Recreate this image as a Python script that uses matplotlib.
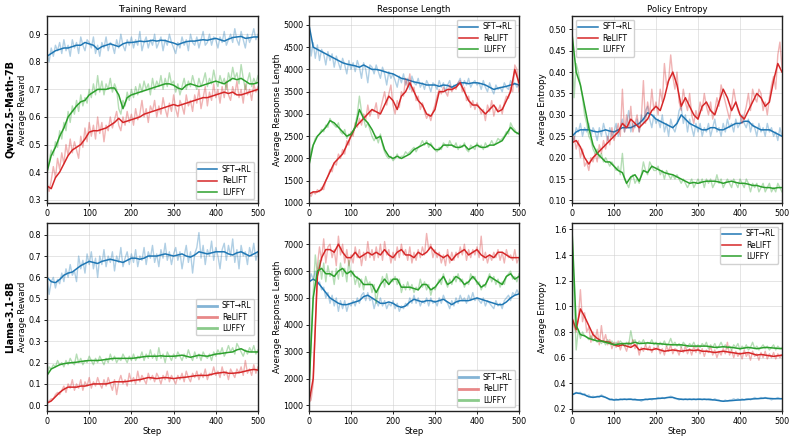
import numpy as np
import matplotlib
matplotlib.use('Agg')
import matplotlib.pyplot as plt

# ---- data ----
# raw values every 5 steps, smoothed values every 10 steps
q_rew_sft_raw = [0.83, 0.80, 0.85, 0.82, 0.86, 0.84, 0.87, 0.83, 0.88, 0.84, 0.86,
                 0.82, 0.88, 0.85, 0.87, 0.83, 0.89, 0.86, 0.84, 0.88, 0.87,
                 0.85, 0.89, 0.83, 0.86, 0.82, 0.87, 0.85, 0.89, 0.84, 0.87,
                 0.86, 0.83, 0.88, 0.85, 0.90, 0.86, 0.84, 0.88, 0.86, 0.89,
                 0.85, 0.88, 0.86, 0.91, 0.84, 0.87, 0.89, 0.85, 0.88, 0.86,
                 0.90, 0.85, 0.87, 0.89, 0.84, 0.88, 0.86, 0.90, 0.87, 0.85,
                 0.83, 0.87, 0.85, 0.89, 0.86, 0.88, 0.84, 0.90, 0.87, 0.86,
                 0.89, 0.85, 0.88, 0.91, 0.86, 0.87, 0.90, 0.86, 0.89, 0.88,
                 0.85, 0.89, 0.87, 0.91, 0.86, 0.88, 0.90, 0.87, 0.92, 0.88,
                 0.86, 0.91, 0.88, 0.85, 0.90, 0.87, 0.89, 0.92, 0.88, 0.90]
q_rew_sft = [0.82, 0.83, 0.84, 0.845, 0.85, 0.85, 0.855, 0.86, 0.86, 0.87, 0.865,
             0.86, 0.845, 0.855, 0.86, 0.865, 0.86, 0.855, 0.865, 0.87, 0.87,
             0.872, 0.875, 0.873, 0.875, 0.878, 0.875, 0.878, 0.877, 0.872, 0.868,
             0.862, 0.868, 0.873, 0.875, 0.875, 0.878, 0.88, 0.878, 0.882, 0.885,
             0.88, 0.875, 0.882, 0.888, 0.89, 0.892, 0.885, 0.887, 0.89, 0.89]
q_rew_relift_raw = [0.36, 0.33, 0.37, 0.42, 0.38, 0.45, 0.41, 0.47, 0.43, 0.50, 0.46,
                    0.52, 0.47, 0.51, 0.48, 0.45, 0.53, 0.49, 0.56, 0.51, 0.58,
                    0.53, 0.57, 0.52, 0.60, 0.54, 0.58, 0.51, 0.57, 0.55, 0.60,
                    0.56, 0.59, 0.62, 0.57, 0.55, 0.60, 0.57, 0.62, 0.58, 0.61,
                    0.57, 0.63, 0.59, 0.61, 0.66, 0.60, 0.63, 0.58, 0.64, 0.62,
                    0.66, 0.60, 0.64, 0.61, 0.67, 0.63, 0.60, 0.65, 0.62, 0.68,
                    0.63, 0.60, 0.66, 0.64, 0.61, 0.68, 0.64, 0.66, 0.62, 0.68,
                    0.65, 0.70, 0.63, 0.67, 0.71, 0.64, 0.69, 0.66, 0.72, 0.67,
                    0.70, 0.65, 0.71, 0.67, 0.73, 0.68, 0.66, 0.71, 0.68, 0.73,
                    0.67, 0.70, 0.65, 0.72, 0.68, 0.70, 0.66, 0.72, 0.69, 0.71]
q_rew_relift = [0.35, 0.34, 0.38, 0.40, 0.43, 0.46, 0.48, 0.49, 0.50, 0.52, 0.545,
                0.55, 0.55, 0.555, 0.56, 0.57, 0.58, 0.595, 0.58, 0.585, 0.59,
                0.595, 0.60, 0.61, 0.615, 0.62, 0.625, 0.63, 0.635, 0.64, 0.645,
                0.64, 0.645, 0.65, 0.655, 0.66, 0.665, 0.67, 0.67, 0.675, 0.68,
                0.685, 0.69, 0.685, 0.69, 0.68, 0.68, 0.685, 0.69, 0.695, 0.70]
q_rew_luffy_raw = [0.41, 0.44, 0.48, 0.46, 0.51, 0.49, 0.55, 0.52, 0.58, 0.55, 0.62,
                   0.58, 0.64, 0.61, 0.66, 0.62, 0.68, 0.64, 0.67, 0.65, 0.70,
                   0.67, 0.72, 0.68, 0.75, 0.69, 0.73, 0.68, 0.72, 0.70, 0.74,
                   0.69, 0.72, 0.70, 0.63, 0.61, 0.66, 0.64, 0.69, 0.66, 0.70,
                   0.67, 0.71, 0.68, 0.72, 0.69, 0.73, 0.70, 0.72, 0.68, 0.74,
                   0.70, 0.73, 0.71, 0.75, 0.70, 0.74, 0.71, 0.76, 0.72, 0.73,
                   0.69, 0.72, 0.68, 0.71, 0.74, 0.70, 0.73, 0.71, 0.75, 0.72,
                   0.70, 0.74, 0.71, 0.73, 0.76, 0.71, 0.74, 0.72, 0.77, 0.73,
                   0.71, 0.75, 0.72, 0.74, 0.70, 0.76, 0.73, 0.78, 0.74, 0.76,
                   0.72, 0.79, 0.74, 0.70, 0.73, 0.76, 0.71, 0.74, 0.72, 0.75]
q_rew_luffy = [0.40, 0.46, 0.49, 0.53, 0.56, 0.60, 0.62, 0.64, 0.655, 0.66, 0.68,
               0.69, 0.70, 0.70, 0.70, 0.705, 0.705, 0.68, 0.63, 0.67, 0.68,
               0.685, 0.69, 0.695, 0.70, 0.705, 0.71, 0.715, 0.72, 0.72, 0.715,
               0.705, 0.70, 0.715, 0.72, 0.715, 0.71, 0.715, 0.72, 0.725, 0.73,
               0.725, 0.72, 0.73, 0.74, 0.735, 0.74, 0.73, 0.72, 0.72, 0.725]

q_len_sft_raw = [5000, 4300, 4600, 4250, 4550, 4200, 4450, 4350, 4100, 4400, 4200,
                 4350, 4050, 4300, 4150, 4000, 4250, 4100, 3900, 4200, 4000,
                 4150, 3950, 4200, 4050, 3800, 4150, 4000, 3700, 4100, 4050,
                 3900, 4100, 3950, 3800, 4050, 3900, 3650, 3950, 3800, 3900,
                 3750, 3600, 3850, 3700, 3900, 3650, 3800, 3550, 3850, 3700,
                 3650, 3800, 3600, 3700, 3550, 3750, 3650, 3500, 3700, 3650,
                 3550, 3750, 3600, 3700, 3500, 3650, 3750, 3550, 3650, 3600,
                 3700, 3800, 3600, 3750, 3650, 3800, 3600, 3700, 3750, 3650,
                 3700, 3550, 3750, 3600, 3500, 3700, 3550, 3450, 3650, 3550,
                 3600, 3500, 3700, 3600, 3550, 3750, 3650, 3700, 3600, 3650]
q_len_sft = [5000, 4500, 4450, 4400, 4350, 4300, 4250, 4200, 4150, 4120, 4100,
             4080, 4050, 4100, 4050, 4000, 4000, 3980, 3950, 3920, 3900,
             3850, 3800, 3780, 3750, 3720, 3700, 3680, 3650, 3650, 3650,
             3620, 3650, 3640, 3600, 3650, 3700, 3700, 3680, 3700, 3700,
             3680, 3650, 3600, 3550, 3580, 3600, 3620, 3650, 3680, 3650]
q_len_relift_raw = [1200, 1150, 1250, 1200, 1300, 1250, 1350, 1300, 1500, 1600, 1750,
                    1700, 1900, 1850, 2100, 2000, 2200, 2100, 2400, 2300, 2600,
                    2500, 2800, 2700, 2900, 2750, 3000, 2850, 3200, 2950, 3100,
                    3050, 3250, 2900, 3100, 3300, 3500, 3200, 3450, 3650, 3200,
                    3000, 3300, 3150, 3500, 3400, 3800, 3600, 3900, 3500, 3600,
                    3300, 3400, 3100, 3250, 3050, 2900, 3000, 2850, 3050, 3200,
                    3400, 3550, 3450, 3600, 3500, 3400, 3650, 3500, 3600, 3550,
                    3700, 3750, 3500, 3600, 3300, 3400, 3150, 3300, 3100, 3250,
                    3150, 3000, 3100, 2850, 3200, 3050, 3300, 2950, 3150, 3050,
                    3200, 3000, 3250, 3400, 3350, 3600, 3500, 4100, 4000, 3500]
q_len_relift = [1200, 1250, 1250, 1300, 1500, 1700, 1900, 2000, 2100, 2300, 2500,
                2700, 2800, 2900, 3000, 3100, 3050, 3000, 3200, 3400, 3300,
                3100, 3400, 3500, 3700, 3500, 3300, 3200, 3000, 2950, 3100,
                3500, 3500, 3550, 3550, 3600, 3700, 3500, 3300, 3200, 3200,
                3100, 3000, 3100, 3200, 3050, 3100, 3300, 3500, 4000, 3700]
q_len_luffy_raw = [1850, 2200, 2300, 2450, 2500, 2550, 2650, 2600, 2750, 2700, 2900,
                   2800, 2750, 2700, 2800, 2600, 2550, 2650, 2450, 2550, 2500,
                   2600, 2750, 3000, 3400, 3050, 2900, 2700, 2800, 2650, 2500,
                   2400, 2500, 2350, 2550, 2300, 2150, 2050, 2000, 2050, 1950,
                   2000, 2100, 2000, 2050, 2050, 2150, 2100, 2150, 2200, 2250,
                   2150, 2250, 2300, 2400, 2300, 2400, 2250, 2350, 2250, 2200,
                   2150, 2250, 2200, 2350, 2300, 2250, 2400, 2300, 2250, 2350,
                   2200, 2300, 2250, 2350, 2200, 2150, 2300, 2250, 2200, 2350,
                   2250, 2300, 2200, 2350, 2250, 2300, 2400, 2300, 2350, 2450,
                   2400, 2450, 2500, 2600, 2550, 2800, 2700, 2650, 2550, 2600]
q_len_luffy = [1850, 2300, 2500, 2600, 2700, 2850, 2800, 2700, 2600, 2500, 2550,
               2700, 3100, 2900, 2800, 2650, 2450, 2500, 2200, 2050, 2000,
               2050, 2000, 2050, 2100, 2200, 2250, 2300, 2350, 2300, 2200,
               2200, 2300, 2300, 2300, 2250, 2250, 2300, 2200, 2250, 2300,
               2250, 2250, 2300, 2300, 2350, 2400, 2550, 2700, 2600, 2550]

q_ent_sft_raw = [0.25, 0.24, 0.27, 0.26, 0.28, 0.25, 0.27, 0.26, 0.28, 0.25, 0.27,
                 0.26, 0.24, 0.27, 0.25, 0.28, 0.26, 0.24, 0.27, 0.25, 0.26,
                 0.28, 0.25, 0.27, 0.29, 0.26, 0.28, 0.31, 0.26, 0.28, 0.27,
                 0.29, 0.26, 0.30, 0.28, 0.31, 0.32, 0.29, 0.27, 0.30, 0.28,
                 0.29, 0.27, 0.30, 0.26, 0.28, 0.25, 0.29, 0.27, 0.26, 0.28,
                 0.31, 0.32, 0.28, 0.30, 0.26, 0.29, 0.27, 0.25, 0.28, 0.26,
                 0.28, 0.25, 0.27, 0.26, 0.28, 0.25, 0.27, 0.29, 0.26, 0.27,
                 0.25, 0.28, 0.26, 0.29, 0.27, 0.28, 0.26, 0.29, 0.27, 0.28,
                 0.30, 0.28, 0.27, 0.29, 0.26, 0.28, 0.27, 0.25, 0.28, 0.26,
                 0.27, 0.25, 0.28, 0.26, 0.27, 0.25, 0.26, 0.24, 0.27, 0.25]
q_ent_sft = [0.25, 0.26, 0.265, 0.265, 0.265, 0.262, 0.26, 0.262, 0.265, 0.262, 0.26,
             0.265, 0.27, 0.27, 0.27, 0.275, 0.28, 0.29, 0.305, 0.30, 0.29,
             0.285, 0.28, 0.275, 0.27, 0.28, 0.30, 0.29, 0.28, 0.275, 0.27,
             0.265, 0.265, 0.27, 0.27, 0.265, 0.265, 0.27, 0.275, 0.28, 0.28,
             0.285, 0.285, 0.275, 0.27, 0.265, 0.265, 0.265, 0.26, 0.255, 0.25]
q_ent_relift_raw = [0.23, 0.25, 0.22, 0.24, 0.20, 0.22, 0.18, 0.19, 0.17, 0.20, 0.19,
                    0.21, 0.19, 0.23, 0.21, 0.24, 0.22, 0.25, 0.23, 0.27, 0.24,
                    0.26, 0.28, 0.25, 0.36, 0.26, 0.30, 0.27, 0.32, 0.26, 0.28,
                    0.30, 0.26, 0.29, 0.38, 0.28, 0.33, 0.30, 0.36, 0.31, 0.33,
                    0.30, 0.36, 0.33, 0.42, 0.37, 0.38, 0.44, 0.39, 0.36, 0.40,
                    0.33, 0.31, 0.36, 0.33, 0.31, 0.35, 0.30, 0.28, 0.31, 0.29,
                    0.33, 0.31, 0.35, 0.32, 0.30, 0.33, 0.29, 0.31, 0.34, 0.32,
                    0.37, 0.35, 0.33, 0.31, 0.29, 0.32, 0.36, 0.33, 0.31, 0.30,
                    0.28, 0.30, 0.32, 0.35, 0.31, 0.36, 0.34, 0.33, 0.36, 0.35,
                    0.31, 0.33, 0.30, 0.34, 0.37, 0.39, 0.36, 0.44, 0.47, 0.41]
q_ent_relift = [0.235, 0.24, 0.225, 0.20, 0.185, 0.20, 0.21, 0.22, 0.23, 0.24, 0.25,
                0.26, 0.28, 0.27, 0.29, 0.28, 0.27, 0.28, 0.29, 0.31, 0.32,
                0.31, 0.34, 0.38, 0.40, 0.37, 0.32, 0.34, 0.32, 0.30, 0.29,
                0.32, 0.33, 0.31, 0.30, 0.33, 0.36, 0.34, 0.31, 0.33, 0.30,
                0.29, 0.31, 0.33, 0.35, 0.34, 0.32, 0.33, 0.38, 0.42, 0.40]
q_ent_luffy_raw = [0.50, 0.34, 0.42, 0.40, 0.37, 0.34, 0.30, 0.28, 0.25, 0.24, 0.22,
                   0.21, 0.22, 0.20, 0.21, 0.19, 0.20, 0.19, 0.18, 0.19, 0.18,
                   0.17, 0.18, 0.16, 0.21, 0.15, 0.14, 0.13, 0.15, 0.16, 0.14,
                   0.15, 0.14, 0.16, 0.19, 0.17, 0.16, 0.19, 0.18, 0.17, 0.17,
                   0.18, 0.16, 0.17, 0.15, 0.17, 0.16, 0.15, 0.16, 0.15, 0.16,
                   0.15, 0.14, 0.15, 0.14, 0.13, 0.14, 0.15, 0.13, 0.14, 0.15,
                   0.14, 0.15, 0.13, 0.15, 0.14, 0.15, 0.13, 0.14, 0.16, 0.14,
                   0.15, 0.13, 0.14, 0.15, 0.14, 0.13, 0.15, 0.14, 0.13, 0.15,
                   0.14, 0.13, 0.15, 0.14, 0.12, 0.14, 0.13, 0.14, 0.12, 0.13,
                   0.14, 0.12, 0.13, 0.14, 0.12, 0.13, 0.12, 0.14, 0.13, 0.12]
q_ent_luffy = [0.49, 0.40, 0.37, 0.32, 0.27, 0.23, 0.21, 0.20, 0.19, 0.19, 0.18,
               0.17, 0.165, 0.14, 0.155, 0.16, 0.145, 0.17, 0.165, 0.18, 0.175,
               0.17, 0.165, 0.162, 0.16, 0.155, 0.15, 0.145, 0.14, 0.142, 0.14,
               0.143, 0.145, 0.145, 0.145, 0.143, 0.14, 0.143, 0.145, 0.142, 0.14,
               0.14, 0.138, 0.135, 0.135, 0.132, 0.13, 0.13, 0.128, 0.13, 0.13]

l_rew_sft_raw = [0.61, 0.52, 0.58, 0.60, 0.55, 0.59, 0.57, 0.62, 0.58, 0.64, 0.60,
                 0.66, 0.61, 0.63, 0.58, 0.70, 0.64, 0.68, 0.62, 0.71, 0.66,
                 0.72, 0.64, 0.69, 0.60, 0.70, 0.66, 0.73, 0.65, 0.70, 0.67,
                 0.72, 0.63, 0.70, 0.67, 0.74, 0.65, 0.69, 0.72, 0.66, 0.71,
                 0.67, 0.73, 0.65, 0.70, 0.68, 0.74, 0.66, 0.72, 0.69, 0.75,
                 0.67, 0.71, 0.65, 0.73, 0.69, 0.76, 0.68, 0.72, 0.66, 0.71,
                 0.74, 0.68, 0.72, 0.64, 0.70, 0.75, 0.67, 0.72, 0.62, 0.71,
                 0.74, 0.81, 0.69, 0.75, 0.66, 0.73, 0.70, 0.77, 0.68, 0.74,
                 0.70, 0.64, 0.73, 0.76, 0.68, 0.75, 0.70, 0.78, 0.67, 0.73,
                 0.64, 0.75, 0.70, 0.72, 0.66, 0.74, 0.70, 0.76, 0.68, 0.72]
l_rew_sft = [0.60, 0.58, 0.575, 0.59, 0.61, 0.62, 0.625, 0.64, 0.655, 0.665, 0.675,
             0.67, 0.665, 0.675, 0.68, 0.685, 0.68, 0.675, 0.67, 0.68, 0.69,
             0.69, 0.685, 0.69, 0.70, 0.70, 0.70, 0.705, 0.71, 0.705, 0.70,
             0.705, 0.71, 0.70, 0.695, 0.705, 0.72, 0.715, 0.71, 0.715, 0.72,
             0.72, 0.72, 0.71, 0.705, 0.715, 0.72, 0.71, 0.70, 0.71, 0.72]
l_rew_relift_raw = [0.01, 0.02, 0.03, 0.03, 0.05, 0.06, 0.05, 0.07, 0.09, 0.06, 0.10,
                    0.08, 0.12, 0.07, 0.10, 0.08, 0.12, 0.07, 0.11, 0.09, 0.13,
                    0.08, 0.11, 0.09, 0.13, 0.10, 0.08, 0.12, 0.09, 0.13, 0.10,
                    0.07, 0.12, 0.05, 0.11, 0.14, 0.10, 0.12, 0.09, 0.15, 0.11,
                    0.13, 0.10, 0.16, 0.11, 0.14, 0.12, 0.10, 0.15, 0.12, 0.14,
                    0.11, 0.15, 0.13, 0.10, 0.14, 0.12, 0.16, 0.11, 0.14, 0.12,
                    0.10, 0.14, 0.12, 0.15, 0.11, 0.16, 0.13, 0.11, 0.15, 0.13,
                    0.16, 0.12, 0.15, 0.13, 0.17, 0.12, 0.15, 0.14, 0.18, 0.14,
                    0.16, 0.13, 0.18, 0.14, 0.16, 0.12, 0.17, 0.15, 0.13, 0.17,
                    0.15, 0.18, 0.14, 0.21, 0.15, 0.17, 0.14, 0.19, 0.15, 0.18]
l_rew_relift = [0.01, 0.02, 0.04, 0.06, 0.075, 0.085, 0.085, 0.085, 0.09, 0.09, 0.095,
                0.10, 0.10, 0.10, 0.10, 0.105, 0.11, 0.11, 0.11, 0.112, 0.115,
                0.118, 0.12, 0.125, 0.13, 0.128, 0.125, 0.128, 0.13, 0.128, 0.125,
                0.128, 0.13, 0.132, 0.135, 0.138, 0.14, 0.14, 0.14, 0.145, 0.15,
                0.152, 0.155, 0.15, 0.15, 0.152, 0.155, 0.16, 0.165, 0.168, 0.165]
l_rew_luffy_raw = [0.14, 0.18, 0.17, 0.19, 0.18, 0.21, 0.19, 0.20, 0.18, 0.21, 0.19,
                   0.22, 0.20, 0.19, 0.24, 0.20, 0.22, 0.19, 0.21, 0.20, 0.23,
                   0.21, 0.19, 0.22, 0.20, 0.23, 0.21, 0.19, 0.22, 0.20, 0.24,
                   0.21, 0.23, 0.20, 0.22, 0.21, 0.24, 0.22, 0.20, 0.23, 0.21,
                   0.24, 0.21, 0.23, 0.22, 0.25, 0.21, 0.24, 0.22, 0.26, 0.22,
                   0.24, 0.21, 0.27, 0.22, 0.24, 0.20, 0.25, 0.23, 0.21, 0.24,
                   0.22, 0.25, 0.23, 0.21, 0.24, 0.22, 0.26, 0.23, 0.21, 0.25,
                   0.22, 0.24, 0.21, 0.25, 0.23, 0.22, 0.24, 0.21, 0.25, 0.23,
                   0.26, 0.24, 0.27, 0.23, 0.25, 0.28, 0.25, 0.27, 0.24, 0.29,
                   0.27, 0.25, 0.23, 0.26, 0.24, 0.27, 0.25, 0.28, 0.24, 0.26]
l_rew_luffy = [0.14, 0.17, 0.18, 0.19, 0.195, 0.198, 0.20, 0.202, 0.205, 0.208, 0.21,
               0.21, 0.21, 0.212, 0.215, 0.218, 0.22, 0.22, 0.22, 0.22, 0.22,
               0.222, 0.225, 0.228, 0.23, 0.23, 0.23, 0.232, 0.23, 0.23, 0.23,
               0.232, 0.235, 0.23, 0.225, 0.23, 0.235, 0.232, 0.23, 0.235, 0.24,
               0.242, 0.245, 0.248, 0.25, 0.26, 0.265, 0.255, 0.25, 0.25, 0.25]

l_len_sft_raw = [5500, 5900, 5700, 6000, 5500, 5600, 5300, 5400, 5000, 5200, 4800,
                 5100, 4700, 5000, 4500, 4900, 4600, 4900, 4500, 4800, 4700,
                 4900, 4700, 5000, 4800, 5100, 5200, 4900, 5200, 4900, 5000,
                 4600, 4900, 4700, 5000, 4700, 4900, 4600, 4800, 4700, 4900,
                 4600, 4800, 4500, 4700, 4600, 4800, 4700, 5000, 4800, 5100,
                 4800, 5000, 4700, 4900, 4800, 5000, 4700, 5000, 4800, 4900,
                 4700, 5000, 4800, 5100, 4900, 4800, 4600, 4900, 4700, 5000,
                 4800, 5100, 4900, 5000, 4800, 5100, 4900, 5200, 4900, 5000,
                 4900, 4800, 5000, 4700, 4900, 4800, 4700, 4600, 4900, 4700,
                 4800, 4600, 4900, 5000, 5100, 4900, 5200, 5100, 5300, 5150]
l_len_sft = [5600, 5700, 5600, 5400, 5200, 5000, 4900, 4800, 4750, 4750, 4800,
             4850, 4900, 5050, 5100, 5000, 4900, 4800, 4800, 4850, 4800,
             4700, 4650, 4700, 4850, 4950, 4900, 4850, 4900, 4900, 4850,
             4900, 4950, 4850, 4750, 4850, 4900, 4900, 4900, 4950, 5000,
             4950, 4900, 4850, 4800, 4750, 4750, 4850, 5000, 5100, 5150]
l_len_relift_raw = [1100, 1200, 1800, 4000, 6200, 6900, 6400, 7200, 6300, 6900, 7000,
                    6500, 6800, 6200, 7300, 6600, 7000, 6300, 6800, 6200, 6600,
                    6300, 6900, 6500, 6800, 6200, 6700, 6400, 7100, 6500, 6800,
                    6400, 6900, 6500, 7000, 6400, 7100, 6600, 6800, 6300, 6700,
                    6400, 6900, 6500, 7000, 6600, 6800, 6400, 6900, 6300, 6700,
                    6400, 6800, 6500, 6900, 6600, 7400, 6800, 7000, 6500, 6800,
                    6500, 6700, 6300, 6600, 6200, 6800, 6300, 6700, 6400, 6700,
                    6500, 6900, 6600, 7000, 6400, 6800, 6500, 6800, 6600, 6900,
                    6500, 7300, 6400, 6700, 6300, 6600, 6400, 6700, 6500, 6800,
                    6400, 6700, 6300, 6800, 6500, 6600, 6400, 6800, 6300, 6500]
l_len_relift = [1100, 2000, 5800, 6500, 6800, 6800, 6700, 7000, 6700, 6500, 6500,
                6700, 6500, 6600, 6700, 6600, 6700, 6600, 6800, 6600, 6500,
                6700, 6800, 6600, 6600, 6500, 6700, 6600, 6700, 6900, 6700,
                6600, 6500, 6600, 6400, 6600, 6700, 6800, 6600, 6700, 6800,
                6600, 6500, 6600, 6500, 6700, 6700, 6600, 6500, 6500, 6500]
l_len_luffy_raw = [1600, 3500, 5200, 6600, 5900, 6400, 5700, 6300, 5600, 6200, 5800,
                   6000, 5500, 6100, 5700, 6300, 5800, 6100, 5600, 6400, 5800,
                   6000, 5500, 5800, 5400, 5700, 5300, 5800, 5500, 5600, 5200,
                   5500, 4800, 5300, 5500, 5800, 5400, 5900, 5500, 5700, 5600,
                   5800, 5500, 5700, 5200, 5500, 5300, 5600, 5300, 5500, 5200,
                   5400, 5300, 5700, 5400, 5600, 5300, 5500, 5100, 5400, 5300,
                   5500, 5700, 5500, 5900, 5600, 5400, 5700, 5500, 5800, 5600,
                   5900, 5600, 5700, 5400, 5600, 5500, 5900, 5700, 5800, 5500,
                   5600, 5300, 5500, 5400, 5700, 5900, 5600, 5800, 5500, 5700,
                   5400, 5600, 5500, 5800, 5900, 6000, 5700, 5800, 5600, 5900]
l_len_luffy = [1600, 5000, 6000, 6100, 5900, 5900, 5800, 6000, 6100, 5900, 6000,
               5800, 5700, 5500, 5500, 5500, 5200, 5500, 5700, 5500, 5700,
               5700, 5400, 5400, 5400, 5350, 5300, 5500, 5500, 5300, 5400,
               5600, 5800, 5500, 5600, 5800, 5700, 5500, 5600, 5800, 5600,
               5400, 5500, 5800, 5700, 5600, 5500, 5800, 5900, 5700, 5800]

l_ent_sft_raw = [0.31, 0.32, 0.33, 0.32, 0.33, 0.31, 0.32, 0.30, 0.31, 0.29, 0.30,
                 0.29, 0.30, 0.29, 0.31, 0.30, 0.29, 0.28, 0.27, 0.28, 0.27,
                 0.28, 0.27, 0.28, 0.27, 0.28, 0.27, 0.28, 0.28, 0.27, 0.28,
                 0.27, 0.27, 0.26, 0.27, 0.28, 0.27, 0.28, 0.27, 0.28, 0.28,
                 0.29, 0.28, 0.29, 0.28, 0.29, 0.29, 0.30, 0.29, 0.28, 0.28,
                 0.27, 0.28, 0.27, 0.28, 0.27, 0.28, 0.27, 0.28, 0.27, 0.28,
                 0.28, 0.27, 0.28, 0.27, 0.28, 0.28, 0.27, 0.28, 0.27, 0.27,
                 0.26, 0.26, 0.27, 0.26, 0.27, 0.27, 0.28, 0.27, 0.28, 0.27,
                 0.28, 0.27, 0.28, 0.28, 0.27, 0.28, 0.29, 0.28, 0.28, 0.29,
                 0.28, 0.29, 0.28, 0.28, 0.27, 0.28, 0.28, 0.29, 0.28, 0.28]
l_ent_sft = [0.31, 0.325, 0.32, 0.31, 0.295, 0.29, 0.295, 0.30, 0.29, 0.275, 0.27,
             0.272, 0.275, 0.275, 0.275, 0.272, 0.27, 0.272, 0.275, 0.278, 0.28,
             0.283, 0.285, 0.29, 0.29, 0.28, 0.275, 0.275, 0.275, 0.275, 0.275,
             0.275, 0.275, 0.272, 0.27, 0.265, 0.26, 0.263, 0.265, 0.268, 0.27,
             0.272, 0.275, 0.278, 0.28, 0.282, 0.285, 0.282, 0.28, 0.28, 0.28]
l_ent_relift_raw = [0.91, 0.84, 0.80, 0.90, 1.13, 0.88, 0.95, 0.80, 0.84, 0.72, 0.80,
                    0.74, 0.82, 0.70, 0.85, 0.72, 0.78, 0.70, 0.74, 0.67, 0.72,
                    0.68, 0.73, 0.66, 0.71, 0.69, 0.65, 0.72, 0.69, 0.74, 0.67,
                    0.70, 0.62, 0.68, 0.65, 0.70, 0.66, 0.69, 0.64, 0.68, 0.66,
                    0.69, 0.63, 0.67, 0.62, 0.69, 0.65, 0.70, 0.63, 0.67, 0.66,
                    0.62, 0.68, 0.64, 0.69, 0.63, 0.67, 0.62, 0.69, 0.64, 0.68,
                    0.63, 0.67, 0.61, 0.66, 0.64, 0.69, 0.62, 0.66, 0.60, 0.65,
                    0.62, 0.67, 0.63, 0.72, 0.62, 0.66, 0.60, 0.65, 0.61, 0.64,
                    0.59, 0.66, 0.61, 0.64, 0.58, 0.65, 0.61, 0.63, 0.58, 0.64,
                    0.60, 0.65, 0.59, 0.63, 0.60, 0.64, 0.59, 0.63, 0.60, 0.62]
l_ent_relift = [0.91, 0.82, 0.98, 0.92, 0.85, 0.78, 0.75, 0.73, 0.725, 0.72, 0.70,
                0.69, 0.70, 0.69, 0.68, 0.70, 0.66, 0.67, 0.665, 0.66, 0.67,
                0.66, 0.65, 0.655, 0.66, 0.655, 0.65, 0.655, 0.66, 0.655, 0.66,
                0.65, 0.65, 0.645, 0.64, 0.645, 0.65, 0.645, 0.64, 0.635, 0.63,
                0.635, 0.64, 0.63, 0.62, 0.625, 0.62, 0.615, 0.61, 0.615, 0.62]
l_ent_luffy_raw = [1.60, 1.05, 0.66, 0.82, 0.75, 0.80, 0.77, 0.76, 0.74, 0.77, 0.73,
                   0.75, 0.72, 0.74, 0.71, 0.73, 0.70, 0.74, 0.71, 0.73, 0.70,
                   0.72, 0.70, 0.73, 0.71, 0.69, 0.72, 0.70, 0.81, 0.72, 0.74,
                   0.70, 0.73, 0.71, 0.74, 0.70, 0.72, 0.71, 0.74, 0.70, 0.72,
                   0.69, 0.72, 0.70, 0.73, 0.69, 0.71, 0.75, 0.70, 0.72, 0.69,
                   0.71, 0.68, 0.72, 0.70, 0.68, 0.71, 0.69, 0.72, 0.68, 0.70,
                   0.68, 0.71, 0.69, 0.72, 0.67, 0.70, 0.68, 0.71, 0.67, 0.69,
                   0.72, 0.68, 0.70, 0.67, 0.69, 0.66, 0.70, 0.68, 0.71, 0.66,
                   0.69, 0.67, 0.70, 0.66, 0.68, 0.72, 0.67, 0.69, 0.66, 0.68,
                   0.70, 0.67, 0.69, 0.66, 0.68, 0.70, 0.66, 0.69, 0.67, 0.68]
l_ent_luffy = [1.60, 0.85, 0.78, 0.77, 0.75, 0.74, 0.73, 0.73, 0.72, 0.71, 0.70,
               0.705, 0.71, 0.71, 0.71, 0.72, 0.71, 0.712, 0.715, 0.712, 0.71,
               0.708, 0.705, 0.702, 0.70, 0.70, 0.70, 0.695, 0.69, 0.69, 0.69,
               0.69, 0.69, 0.685, 0.68, 0.682, 0.685, 0.682, 0.68, 0.675, 0.67,
               0.675, 0.68, 0.675, 0.67, 0.675, 0.68, 0.678, 0.675, 0.672, 0.67]

methods = ['SFT→RL', 'ReLIFT', 'LUFFY']
colors = ['#1f77b4', '#d62728', '#2ca02c']
col_titles = ['Training Reward', 'Response Length', 'Policy Entropy']
ylabels = ['Average Reward', 'Average Response Length', 'Average Entropy']
row_names = ['Qwen2.5-Math-7B', 'Llama-3.1-8B']

panels = [
    [[(q_rew_sft_raw, q_rew_sft), (q_rew_relift_raw, q_rew_relift), (q_rew_luffy_raw, q_rew_luffy)],
     [(q_len_sft_raw, q_len_sft), (q_len_relift_raw, q_len_relift), (q_len_luffy_raw, q_len_luffy)],
     [(q_ent_sft_raw, q_ent_sft), (q_ent_relift_raw, q_ent_relift), (q_ent_luffy_raw, q_ent_luffy)]],
    [[(l_rew_sft_raw, l_rew_sft), (l_rew_relift_raw, l_rew_relift), (l_rew_luffy_raw, l_rew_luffy)],
     [(l_len_sft_raw, l_len_sft), (l_len_relift_raw, l_len_relift), (l_len_luffy_raw, l_len_luffy)],
     [(l_ent_sft_raw, l_ent_sft), (l_ent_relift_raw, l_ent_relift), (l_ent_luffy_raw, l_ent_luffy)]],
]

ylims = [[(0.288, 0.966), (1000, 5200), (0.094, 0.531)],
         [(-0.027, 0.855), (790, 7790), (0.184, 1.65)]]
legend_locs = [['lower right', 'upper right', 'upper left'],
               ['center right', 'lower right', 'upper right']]
# bottom-left / bottom-middle legends show the faded raw-style handle
faded_legend = [[False, False, False], [True, True, False]]

plt.rcParams['font.family'] = 'DejaVu Sans'
fig = plt.figure(figsize=(7.95, 4.40), dpi=100)

lefts = [47, 309, 572]
widths = [211, 210, 210]
tops = [16, 223]
heights = [187, 188]
ylabel_x = [-0.095, -0.129, -0.119]

for r in range(2):
    for c in range(3):
        ax = fig.add_axes([lefts[c] / 795, (440 - tops[r] - heights[r]) / 440,
                           widths[c] / 795, heights[r] / 440])
        for k, (raw, sm) in enumerate(panels[r][c]):
            xr = np.linspace(0, 500, len(raw))
            xs = np.linspace(0, 500, len(sm))
            ax.plot(xr, raw, color=colors[k], alpha=0.35, lw=1.0)
            ax.plot(xs, sm, color=colors[k], lw=1.1)
        # legend proxies
        if faded_legend[r][c]:
            handles = [plt.Line2D([], [], color=colors[k], alpha=0.55, lw=2.0, label=methods[k])
                       for k in range(3)]
        else:
            handles = [plt.Line2D([], [], color=colors[k], lw=1.1, label=methods[k])
                       for k in range(3)]
        ax.set_xlim(0, 500)
        ax.set_ylim(*ylims[r][c])
        ax.set_xticks([0, 100, 200, 300, 400, 500])
        ax.grid(True, color='#cccccc', alpha=0.6, lw=0.6)
        ax.tick_params(labelsize=5.8, length=2.5, width=0.6, pad=1.5)
        for s in ax.spines.values():
            s.set_color('#222222')
            s.set_linewidth(1.0)
        ax.set_ylabel(ylabels[c], fontsize=6.2)
        ax.yaxis.set_label_coords(ylabel_x[c], 0.5)
        if r == 0:
            ax.set_title(col_titles[c], fontsize=6.1, pad=3)
        else:
            ax.set_xlabel('Step', fontsize=6.1, labelpad=1)
        ax.legend(handles=handles, loc=legend_locs[r][c], fontsize=5.5,
                  framealpha=0.9, handlelength=2.5, borderpad=0.35,
                  labelspacing=0.3, handletextpad=0.6, fancybox=True)
        if c == 0:
            ax.text(-0.175, 0.5, row_names[r], transform=ax.transAxes,
                    rotation=90, ha='center', va='center',
                    fontsize=7, fontweight='bold')

fig.savefig('out.png', dpi=100)
